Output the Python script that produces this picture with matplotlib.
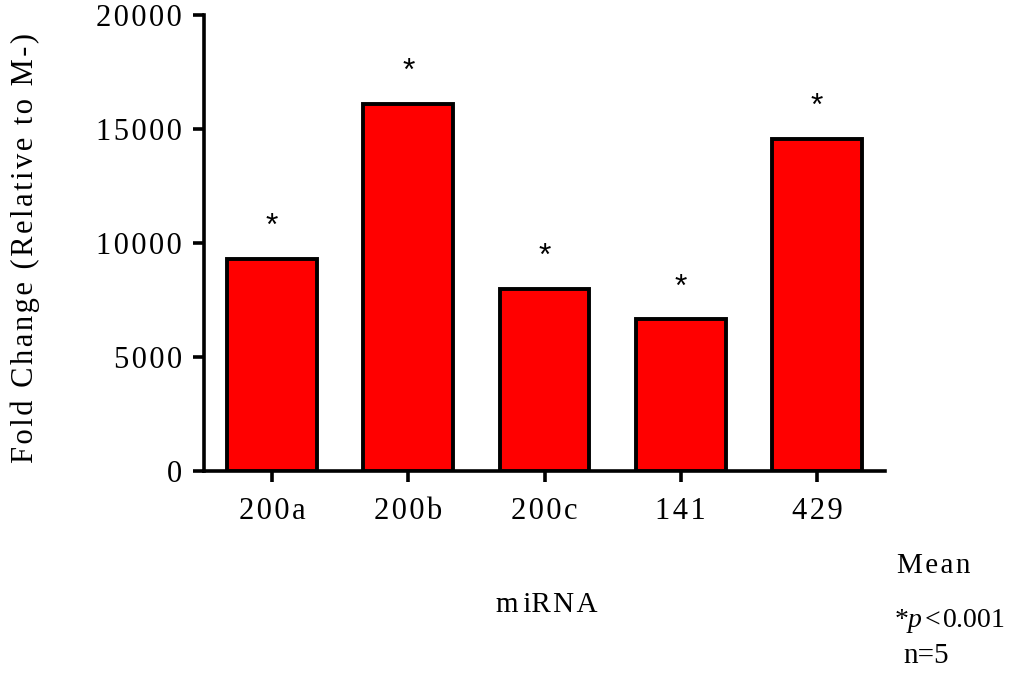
import matplotlib
matplotlib.use("Agg")
import matplotlib.pyplot as plt

plt.rcParams["mathtext.fontset"] = "custom"
plt.rcParams["mathtext.rm"] = "Liberation Serif"
plt.rcParams["mathtext.it"] = "Liberation Serif:italic"

# Fold-change values per miRNA
categories = ["200a", "200b", "200c", "141", "429"]
fold_change = [9300, 16100, 8000, 6650, 14550]
y_ticks = [0, 5000, 10000, 15000, 20000]

SERIF = "Liberation Serif"
FS = 22
SP = "\u200a"  # hair space used for letter spacing


def spaced(s):
    return SP.join(s)


fig = plt.figure(figsize=(10.12, 6.78), dpi=100)
ax = fig.add_axes([204 / 1012, 1 - 471 / 678, (885 - 204) / 1012, (471 - 15) / 678])

x = list(range(len(categories)))
ax.bar(x, fold_change, width=0.66, color="#FF0000", edgecolor="black",
       linewidth=2.8, zorder=3)

# significance markers above each bar
for xi, v in zip(x, fold_change):
    ax.annotate("*", (xi, v), xytext=(0, 23), textcoords="offset points",
                ha="center", va="center", fontsize=23,
                family="Liberation Sans", clip_on=False)

ax.set_xlim(-0.5, 4.5)
ax.set_ylim(0, 20000)
ax.set_yticks(y_ticks)
ax.set_yticklabels([spaced(str(t)) for t in y_ticks], family=SERIF, fontsize=FS)
ax.set_xticks(x)
ax.set_xticklabels([spaced(c) for c in categories], family=SERIF, fontsize=FS)

for side in ("top", "right"):
    ax.spines[side].set_visible(False)
for side in ("left", "bottom"):
    ax.spines[side].set_linewidth(2.6)
ax.tick_params(axis="both", direction="out", length=8, width=2.6, colors="black")
ax.tick_params(axis="y", pad=8)
ax.tick_params(axis="x", pad=11)

fig.text(25 / 1012, 1 - 248 / 678, spaced("Fold Change (Relative to M-)"),
         rotation=90, ha="center", va="center", family=SERIF, fontsize=FS)
fig.text(547 / 1012, 1 - 605 / 678, "m" + SP * 2 + "iR" + SP + "N" + SP + "A",
         ha="center", va="center", family=SERIF, fontsize=21)

fig.text(934 / 1012, 1 - 566 / 678, spaced("Mean"), ha="center", va="center",
         family=SERIF, fontsize=21)
fig.text(1005 / 1012, 1 - 621 / 678, "*" + r"$\it{p}$" + SP + "<" + SP + "0.001",
         ha="right", va="center", family=SERIF, fontsize=20)
fig.text(926 / 1012, 1 - 656 / 678, "n=5", ha="center", va="center",
         family=SERIF, fontsize=21)

fig.savefig("out.png", dpi=100)
